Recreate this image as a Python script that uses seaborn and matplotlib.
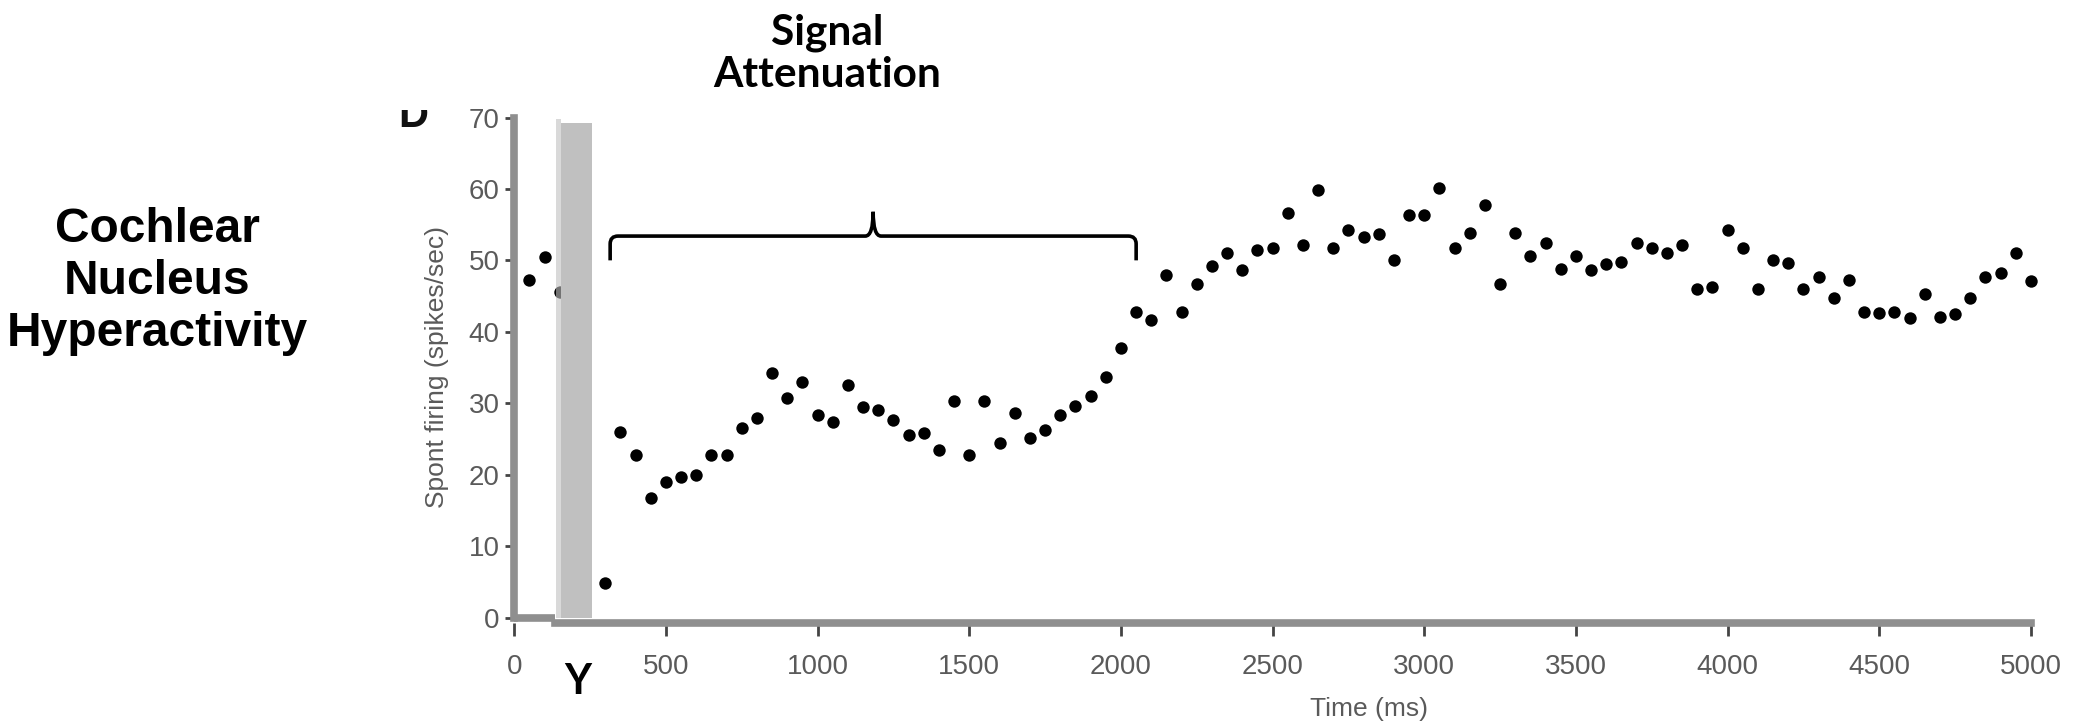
import matplotlib
matplotlib.use("Agg")
import matplotlib.pyplot as plt
import seaborn as sns
from matplotlib.path import Path
from matplotlib.patches import PathPatch
from matplotlib.transforms import Bbox, TransformedBbox

# firing rate before the stimulus (ms, spikes/sec)
pre_time = [50, 100, 150]
pre_rate = [47.3, 50.5, 45.6]

# firing rate after the stimulus, 50 ms bins
post_time = [300, 350, 400, 450, 500, 550, 600, 650, 700, 750,
             800, 850, 900, 950, 1000, 1050, 1100, 1150, 1200, 1250,
             1300, 1350, 1400, 1450, 1500, 1550, 1600, 1650, 1700, 1750,
             1800, 1850, 1900, 1950, 2000, 2050, 2100, 2150, 2200, 2250,
             2300, 2350, 2400, 2450, 2500, 2550, 2600, 2650, 2700, 2750,
             2800, 2850, 2900, 2950, 3000, 3050, 3100, 3150, 3200, 3250,
             3300, 3350, 3400, 3450, 3500, 3550, 3600, 3650, 3700, 3750,
             3800, 3850, 3900, 3950, 4000, 4050, 4100, 4150, 4200, 4250,
             4300, 4350, 4400, 4450, 4500, 4550, 4600, 4650, 4700, 4750,
             4800, 4850, 4900, 4950, 5000]
post_rate = [4.8, 26.0, 22.7, 16.8, 19.0, 19.7, 20.0, 22.8, 22.8, 26.6,
             27.9, 34.2, 30.7, 33.0, 28.4, 27.4, 32.6, 29.5, 29.1, 27.7,
             25.5, 25.9, 23.5, 30.3, 22.7, 30.3, 24.4, 28.7, 25.2, 26.2,
             28.3, 29.6, 31.0, 33.7, 37.7, 42.8, 41.7, 48.0, 42.8, 46.7,
             49.2, 51.0, 48.6, 51.5, 51.8, 56.6, 52.1, 59.8, 51.8, 54.2,
             53.3, 53.7, 50.1, 56.3, 56.4, 60.2, 51.8, 53.8, 57.8, 46.7,
             53.8, 50.6, 52.5, 48.8, 50.6, 48.7, 49.5, 49.8, 52.5, 51.8,
             51.1, 52.1, 46.0, 46.3, 54.2, 51.8, 46.0, 50.1, 49.6, 46.0,
             47.7, 44.8, 47.2, 42.8, 42.6, 42.8, 42.0, 45.3, 42.1, 42.5,
             44.8, 47.7, 48.2, 51.1, 47.1]

x_ticks = [0, 500, 1000, 1500, 2000, 2500, 3000, 3500, 4000, 4500, 5000]
x_labels = ["0", "500", "1000", "1500", "2000", "2500", "3000", "3500", "4000", "4500", "5000"]
y_ticks = [0, 10, 20, 30, 40, 50, 60, 70]

# stimulus bar and brace over the attenuation period
stim_start, stim_end = 153, 255
brace_start, brace_mid, brace_end = 316, 1183, 2050

sns.set_style("white")
plt.rcParams["font.family"] = ["Liberation Sans", "DejaVu Sans"]
plt.rcParams["text.color"] = "black"

W, H = 2075, 721
fig = plt.figure(figsize=(W / 100, H / 100), dpi=100)
ax = fig.add_axes([514.3 / W, 1 - 617.5 / H, (2031 - 514.3) / W, 500 / H])

sns.scatterplot(x=pre_time + post_time, y=pre_rate + post_rate, color="black",
                s=80, linewidth=0, ax=ax, clip_on=False, zorder=3)

# stimulus period
ax.axvspan(137, stim_start, ymin=0, ymax=0.998, color="#c0c0c0", alpha=0.6, lw=0, zorder=4)
ax.axvspan(stim_start, stim_end, ymin=0, ymax=0.99, color="#c0c0c0", lw=0, zorder=4)

ax.set_xlim(0, 5000)
ax.set_ylim(0, 70)
ax.set_xticks(x_ticks)
ax.set_xticklabels(x_labels)
ax.set_yticks(y_ticks)

grey = "#8f8f8f"
for side in ["top", "right"]:
    ax.spines[side].set_visible(False)
ax.spines["left"].set_color(grey)
ax.spines["left"].set_linewidth(5.5)
ax.spines["left"].set_bounds(0, 70)
ax.spines["bottom"].set_color(grey)
ax.spines["bottom"].set_linewidth(5.5)
ax.spines["bottom"].set_position(("outward", 3.6))
ax.spines["bottom"].set_bounds(134, 5000)
ax.plot([0, 134], [0, 0], color=grey, lw=5.5, solid_capstyle="butt", clip_on=False, zorder=2)

ax.tick_params(axis="x", bottom=True, direction="out", length=9, width=2, color="#444444",
               labelsize=20, labelcolor="#5a5a5a", pad=14)
ax.tick_params(axis="y", left=True, direction="out", length=6.5, width=2, color="#444444",
               labelsize=20, labelcolor="#5a5a5a", pad=4)

ax.set_ylabel("Spont firing (spikes/sec)", fontsize=19, color="#5a5a5a", labelpad=14)
ax.set_xlabel("")

# curly brace
b0, bm, b1 = brace_start, brace_mid, brace_end
yb, ye, yt = 53.4, 50.0, 56.8
verts = [(b0, ye), (b0, yb - 1.1), (b0, yb), (b0 + 26, yb),
         (bm - 26, yb), (bm, yb), (bm, yt), (bm, yb), (bm + 26, yb),
         (b1 - 26, yb), (b1, yb), (b1, yb - 1.1), (b1, ye)]
codes = [Path.MOVETO, Path.LINETO, Path.CURVE3, Path.CURVE3,
         Path.LINETO, Path.CURVE3, Path.CURVE3, Path.CURVE3, Path.CURVE3,
         Path.LINETO, Path.CURVE3, Path.CURVE3, Path.LINETO]
ax.add_patch(PathPatch(Path(verts, codes), fill=False, lw=2.6, color="black",
                       clip_on=False, zorder=5))

# figure texts
fig.text(1369 / W, 1 - 709 / H, "Time (ms)", fontsize=19, color="#5a5a5a",
         ha="center", va="center")
fig.text(827 / W, 1 - 54 / H, "Signal\nAttenuation", fontsize=30.5, fontweight="bold",
         color="black", family=["Lato", "DejaVu Sans"], ha="center", va="center",
         linespacing=1.12)
fig.text(578 / W, 1 - 682 / H, "Y", fontsize=30, fontweight="bold", color="black",
         family=["Lato", "DejaVu Sans"], ha="center", va="center")
fig.text(157 / W, 1 - 281 / H, "Cochlear\nNucleus\nHyperactivity", fontsize=34.5,
         fontweight="bold", color="black", ha="center", va="center", linespacing=1.2)

# panel letter, cut off at the top like the source
d = fig.text(413 / W, 1 - 127 / H, "D", fontsize=30, fontweight="bold", color="#111111",
             ha="center", va="baseline")
d.set_clip_box(TransformedBbox(Bbox([[380 / W, 0], [460 / W, 1 - 110 / H]]), fig.transFigure))
d.set_clip_on(True)

fig.savefig("out.png", dpi=100)
